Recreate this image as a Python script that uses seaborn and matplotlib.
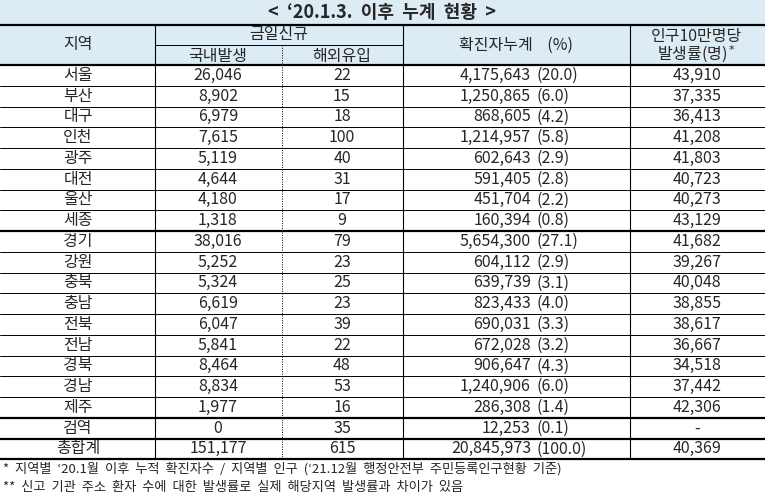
import matplotlib
matplotlib.use("Agg")
import matplotlib.pyplot as plt
import seaborn as sns

sns.set_theme(style="white", rc={"font.family": "Noto Sans CJK KR"})

regions = ["서울","부산","대구","인천","광주","대전","울산","세종","경기","강원","충북","충남","전북","전남","경북","경남","제주","검역","총합계"]
domestic = ["26,046","8,902","6,979","7,615","5,119","4,644","4,180","1,318","38,016","5,252","5,324","6,619","6,047","5,841","8,464","8,834","1,977","0","151,177"]
imported = ["22","15","18","100","40","31","17","9","79","23","25","23","39","22","48","53","16","35","615"]
cumulative = ["4,175,643","1,250,865","868,605","1,214,957","602,643","591,405","451,704","160,394","5,654,300","604,112","639,739","823,433","690,031","672,028","906,647","1,240,906","286,308","12,253","20,845,973"]
percent = ["(20.0)","(6.0)","(4.2)","(5.8)","(2.9)","(2.8)","(2.2)","(0.8)","(27.1)","(2.9)","(3.1)","(4.0)","(3.3)","(3.2)","(4.3)","(6.0)","(1.4)","(0.1)","(100.0)"]
rate = ["43,910","37,335","36,413","41,208","41,803","40,723","40,273","43,129","41,682","39,267","40,048","38,855","38,617","36,667","34,518","37,442","42,306","-","40,369"]

title = "<  ‘20.1.3.  이후  누계  현황  >"
notes = ["*  지역별  ‘20.1월  이후  누적  확진자수  /  지역별  인구  (‘21.12월  행정안전부  주민등록인구현황  기준)",
         "**  신고  기관  주소  환자  수에  대한  발생률로  실제  해당지역  발생률과  차이가  있음"]

fig = plt.figure(figsize=(7.65, 4.95), dpi=100)
ax = fig.add_axes([0, 0, 1, 1])
ax.set_xlim(0, 765); ax.set_ylim(495, 0); ax.axis("off")

blue = "#dcebf4"
ax.add_patch(plt.Rectangle((0, 0), 765, 25, color=blue, lw=0))
ax.add_patch(plt.Rectangle((0, 25), 765, 40, color=blue, lw=0))
fs = 11.5
ax.text(382, 13, title, ha="center", va="center", fontsize=13, fontweight="bold")
ax.text(78, 45, "지역", ha="center", va="center", fontsize=fs)
ax.text(279, 35, "금일신규", ha="center", va="center", fontsize=fs)
ax.text(218, 56, "국내발생", ha="center", va="center", fontsize=fs)
ax.text(342, 56, "해외유입", ha="center", va="center", fontsize=fs)
ax.text(516, 45, "확진자누계    (%)", ha="center", va="center", fontsize=fs)
ax.text(697, 36, "인구10만명당", ha="center", va="center", fontsize=fs)
ax.text(697, 54, "발생률(명)$^*$", ha="center", va="center", fontsize=fs)

top = 65; rh = 20.75
for i, r in enumerate(regions):
    yc = top + rh * (i + 0.5)
    ax.text(78, yc, r, ha="center", va="center", fontsize=fs)
    ax.text(218, yc, domestic[i], ha="center", va="center", fontsize=fs)
    ax.text(342, yc, imported[i], ha="center", va="center", fontsize=fs)
    ax.text(531, yc, cumulative[i], ha="right", va="center", fontsize=fs)
    ax.text(537, yc, percent[i], ha="left", va="center", fontsize=fs)
    ax.text(697, yc, rate[i], ha="center", va="center", fontsize=fs)
    if i < len(regions) - 1:
        thick = i in (7, 16, 17)
        ax.plot([0, 765], [top + rh*(i+1)]*2, color="black", lw=1.6 if thick else 0.7)
bottom = top + rh * len(regions)
for y, lw in [(25, 1.6), (65, 1.6), (bottom, 1.6)]:
    ax.plot([0, 765], [y, y], color="black", lw=lw)
ax.plot([155, 403], [45, 45], color="black", lw=0.7)
for x in (155, 403, 630):
    ax.plot([x, x], [25, bottom], color="black", lw=0.8)
ax.plot([282, 282], [45, bottom], color="black", lw=0.7, ls=(0, (1, 1.5)))

ax.text(3, bottom + 9, notes[0], ha="left", va="center", fontsize=9.5)
ax.text(3, bottom + 28, notes[1], ha="left", va="center", fontsize=9.5)
fig.savefig("out.png", dpi=100)
